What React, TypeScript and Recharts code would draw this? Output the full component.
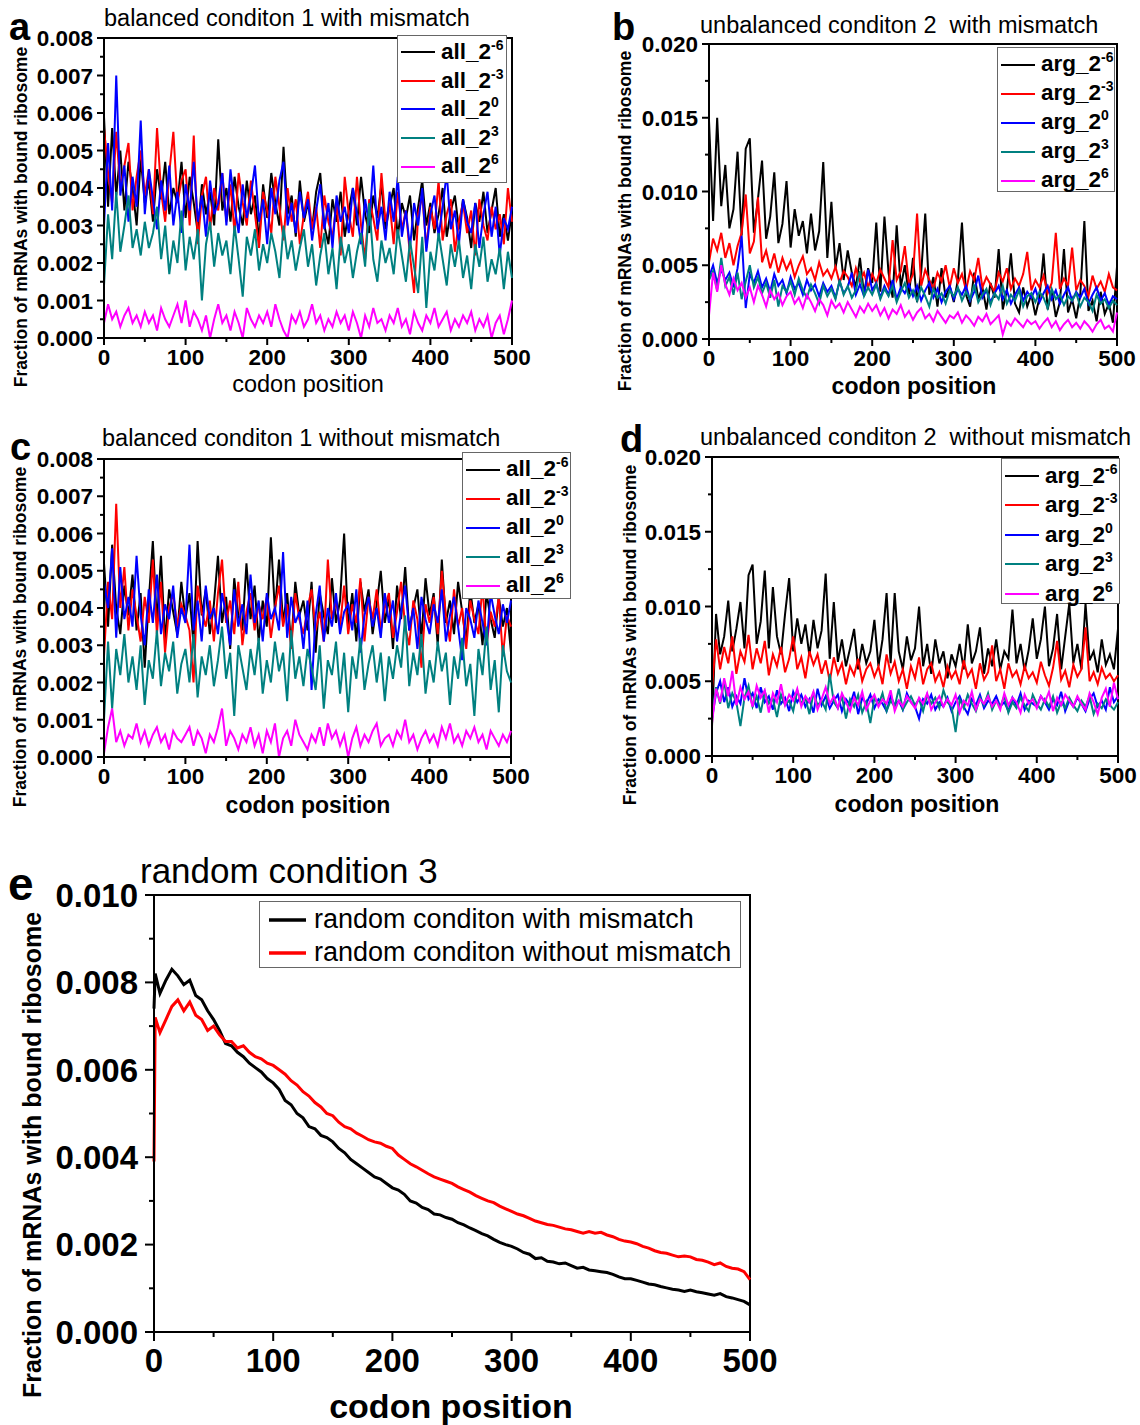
import { Legend, Line, LineChart, ReferenceArea, XAxis, YAxis } from 'recharts'

const FONT = '"Liberation Sans", Arial, Helvetica, sans-serif'

// codon positions sampled every 5 codons
const CODONS = [
  0, 5, 10, 15, 20, 25, 30, 35, 40, 45,
  50, 55, 60, 65, 70, 75, 80, 85, 90, 95,
  100, 105, 110, 115, 120, 125, 130, 135, 140, 145,
  150, 155, 160, 165, 170, 175, 180, 185, 190, 195,
  200, 205, 210, 215, 220, 225, 230, 235, 240, 245,
  250, 255, 260, 265, 270, 275, 280, 285, 290, 295,
  300, 305, 310, 315, 320, 325, 330, 335, 340, 345,
  350, 355, 360, 365, 370, 375, 380, 385, 390, 395,
  400, 405, 410, 415, 420, 425, 430, 435, 440, 445,
  450, 455, 460, 465, 470, 475, 480, 485, 490, 495,
  500,
]

// panel a: balanced condition 1 with mismatch
const A_M6 = [
  0.0059, 0.0035, 0.0056, 0.0038, 0.0050, 0.0034, 0.0047, 0.0040, 0.0030, 0.0048,
  0.0036, 0.0042, 0.0031, 0.0045, 0.0037, 0.0047, 0.0033, 0.0040, 0.0036, 0.0047,
  0.0032, 0.0043, 0.0036, 0.0028, 0.0041, 0.0033, 0.0039, 0.0030, 0.0053, 0.0034,
  0.0040, 0.0031, 0.0043, 0.0035, 0.0030, 0.0042, 0.0033, 0.0038, 0.0026, 0.0041,
  0.0032, 0.0044, 0.0036, 0.0030, 0.0051, 0.0033, 0.0038, 0.0027, 0.0042, 0.0031,
  0.0036, 0.0029, 0.0039, 0.0044, 0.0030, 0.0025, 0.0037, 0.0031, 0.0039, 0.0027,
  0.0034, 0.0040, 0.0030, 0.0043, 0.0033, 0.0028, 0.0038, 0.0032, 0.0041, 0.0029,
  0.0035, 0.0040, 0.0027, 0.0036, 0.0032, 0.0038, 0.0026, 0.0035, 0.0042, 0.0030,
  0.0036, 0.0028, 0.0033, 0.0040, 0.0027, 0.0034, 0.0038, 0.0029, 0.0037, 0.0032,
  0.0024, 0.0036, 0.0031, 0.0039, 0.0028, 0.0034, 0.0040, 0.0027, 0.0033, 0.0026,
  0.0034,
]
const A_M3 = [
  0.0056, 0.0044, 0.0036, 0.0055, 0.0040, 0.0046, 0.0052, 0.0034, 0.0043, 0.0050,
  0.0038, 0.0045, 0.0033, 0.0056, 0.0039, 0.0031, 0.0044, 0.0055, 0.0036, 0.0042,
  0.0045, 0.0030, 0.0054, 0.0025, 0.0038, 0.0043, 0.0029, 0.0040, 0.0034, 0.0044,
  0.0031, 0.0041, 0.0028, 0.0044, 0.0036, 0.0030, 0.0042, 0.0033, 0.0024, 0.0039,
  0.0034, 0.0028, 0.0043, 0.0035, 0.0026, 0.0040, 0.0031, 0.0037, 0.0025, 0.0033,
  0.0039, 0.0029, 0.0035, 0.0024, 0.0038, 0.0031, 0.0027, 0.0036, 0.0022, 0.0043,
  0.0033, 0.0027, 0.0043, 0.0030, 0.0021, 0.0037, 0.0032, 0.0026, 0.0044, 0.0031,
  0.0036, 0.0025, 0.0039, 0.0029, 0.0034, 0.0022, 0.0012, 0.0033, 0.0038, 0.0024,
  0.0035, 0.0029, 0.0042, 0.0026, 0.0033, 0.0037, 0.0023, 0.0031, 0.0036, 0.0028,
  0.0034, 0.0022, 0.0037, 0.0030, 0.0026, 0.0035, 0.0029, 0.0033, 0.0025, 0.0040,
  0.0031,
]
const A_P0 = [
  0.0030, 0.0052, 0.0034, 0.0070, 0.0038, 0.0046, 0.0031, 0.0043, 0.0035, 0.0058,
  0.0033, 0.0045, 0.0037, 0.0029, 0.0042, 0.0034, 0.0046, 0.0030, 0.0039, 0.0028,
  0.0041, 0.0034, 0.0047, 0.0031, 0.0038, 0.0027, 0.0042, 0.0033, 0.0036, 0.0044,
  0.0030, 0.0045, 0.0035, 0.0028, 0.0041, 0.0032, 0.0038, 0.0046, 0.0031, 0.0037,
  0.0025, 0.0040, 0.0033, 0.0042, 0.0047, 0.0030, 0.0036, 0.0028, 0.0039, 0.0032,
  0.0037, 0.0026, 0.0034, 0.0041, 0.0029, 0.0036, 0.0024, 0.0038, 0.0031, 0.0035,
  0.0028, 0.0040, 0.0033, 0.0025, 0.0037, 0.0030, 0.0046, 0.0029, 0.0035, 0.0026,
  0.0039, 0.0031, 0.0043, 0.0027, 0.0034, 0.0024, 0.0036, 0.0030, 0.0040, 0.0023,
  0.0033, 0.0038, 0.0027, 0.0035, 0.0044, 0.0029, 0.0034, 0.0025, 0.0037, 0.0031,
  0.0028, 0.0036, 0.0024, 0.0033, 0.0039, 0.0027, 0.0035, 0.0022, 0.0032, 0.0029,
  0.0035,
]
const A_P3 = [
  0.0014, 0.0033, 0.0021, 0.0039, 0.0023, 0.0030, 0.0038, 0.0024, 0.0029, 0.0022,
  0.0031, 0.0024, 0.0028, 0.0035, 0.0021, 0.0030, 0.0017, 0.0026, 0.0020, 0.0034,
  0.0018, 0.0027, 0.0021, 0.0029, 0.0010, 0.0025, 0.0031, 0.0019, 0.0028, 0.0022,
  0.0026, 0.0017, 0.0030, 0.0021, 0.0011, 0.0027, 0.0022, 0.0029, 0.0018, 0.0025,
  0.0020, 0.0028, 0.0023, 0.0016, 0.0030, 0.0021, 0.0026, 0.0018, 0.0024, 0.0029,
  0.0019, 0.0025, 0.0014, 0.0022, 0.0028, 0.0017, 0.0024, 0.0013, 0.0027, 0.0020,
  0.0025, 0.0016, 0.0023, 0.0028, 0.0019, 0.0036, 0.0021, 0.0015, 0.0026, 0.0020,
  0.0024, 0.0017, 0.0029, 0.0022, 0.0015, 0.0026, 0.0019, 0.0012, 0.0027, 0.0008,
  0.0023, 0.0018, 0.0028, 0.0021, 0.0014, 0.0025, 0.0019, 0.0026, 0.0016, 0.0022,
  0.0013, 0.0025, 0.0019, 0.0027, 0.0015, 0.0021, 0.0017, 0.0024, 0.0013, 0.0023,
  0.0016,
]
const A_P6 = [
  0.0004, 0.0009, 0.0005, 0.0007, 0.0003, 0.0006, 0.0008, 0.0004, 0.0006, 0.0003,
  0.0007, 0.0004, 0.0006, 0.0002, 0.0008, 0.0005, 0.0003, 0.0006, 0.0009, 0.0004,
  0.0010, 0.0003, 0.0007, 0.0005, 0.0002, 0.0006, 0.0000, 0.0005, 0.0009, 0.0004,
  0.0006, 0.0002, 0.0007, 0.0004, 0.0000, 0.0008, 0.0005, 0.0003, 0.0006, 0.0004,
  0.0007, 0.0003, 0.0009, 0.0005, 0.0002, 0.0000, 0.0006, 0.0004, 0.0007, 0.0003,
  0.0005, 0.0009, 0.0004, 0.0006, 0.0002, 0.0005, 0.0003, 0.0007, 0.0004, 0.0006,
  0.0002, 0.0007, 0.0004, 0.0000, 0.0006, 0.0003, 0.0008, 0.0004, 0.0005, 0.0002,
  0.0006, 0.0004, 0.0008, 0.0003, 0.0005, 0.0001, 0.0007, 0.0004, 0.0002, 0.0006,
  0.0004, 0.0008, 0.0003, 0.0005, 0.0007, 0.0002, 0.0005, 0.0003, 0.0006, 0.0004,
  0.0007, 0.0002, 0.0005, 0.0003, 0.0006, 0.0000, 0.0004, 0.0006, 0.0001, 0.0005,
  0.0010,
]

// panel b: unbalanced condition 2 with mismatch
const B_M6 = [
  0.0148, 0.0080, 0.0150, 0.0090, 0.0118, 0.0075, 0.0088, 0.0127, 0.0070, 0.0129,
  0.0136, 0.0072, 0.0095, 0.0121, 0.0068, 0.0083, 0.0113, 0.0065, 0.0078, 0.0107,
  0.0062, 0.0088, 0.0070, 0.0080, 0.0058, 0.0085, 0.0060, 0.0073, 0.0120, 0.0055,
  0.0093, 0.0048, 0.0065, 0.0040, 0.0060, 0.0045, 0.0035, 0.0055, 0.0030, 0.0048,
  0.0038, 0.0079, 0.0032, 0.0083, 0.0045, 0.0028, 0.0077, 0.0035, 0.0050, 0.0030,
  0.0055, 0.0025, 0.0045, 0.0085, 0.0030, 0.0042, 0.0022, 0.0048, 0.0028, 0.0036,
  0.0025, 0.0040, 0.0079, 0.0030, 0.0022, 0.0045, 0.0027, 0.0035, 0.0020, 0.0038,
  0.0028, 0.0061, 0.0020, 0.0033, 0.0058, 0.0024, 0.0018, 0.0035, 0.0022, 0.0030,
  0.0016, 0.0028, 0.0058, 0.0020, 0.0033, 0.0015, 0.0025, 0.0061, 0.0018, 0.0027,
  0.0014, 0.0030, 0.0080, 0.0019, 0.0026, 0.0012, 0.0032, 0.0017, 0.0024, 0.0011,
  0.0049,
]
const B_M3 = [
  0.0052, 0.0068, 0.0060, 0.0072, 0.0055, 0.0065, 0.0050, 0.0063, 0.0072, 0.0098,
  0.0058, 0.0066, 0.0096, 0.0052, 0.0060, 0.0048, 0.0058, 0.0045, 0.0055, 0.0047,
  0.0053, 0.0042, 0.0050, 0.0056, 0.0044, 0.0048, 0.0040, 0.0052, 0.0043, 0.0047,
  0.0041, 0.0049, 0.0038, 0.0046, 0.0042, 0.0036, 0.0048, 0.0039, 0.0045, 0.0035,
  0.0044, 0.0038, 0.0047, 0.0041, 0.0035, 0.0067, 0.0040, 0.0046, 0.0063, 0.0037,
  0.0044, 0.0085, 0.0036, 0.0047, 0.0040, 0.0034, 0.0045, 0.0039, 0.0050, 0.0035,
  0.0048, 0.0038, 0.0044, 0.0033, 0.0046, 0.0040, 0.0055, 0.0035, 0.0042, 0.0037,
  0.0032, 0.0045, 0.0039, 0.0048, 0.0034, 0.0041, 0.0036, 0.0044, 0.0059, 0.0033,
  0.0040, 0.0035, 0.0043, 0.0031, 0.0038, 0.0072, 0.0034, 0.0041, 0.0036, 0.0062,
  0.0033, 0.0040, 0.0036, 0.0029, 0.0043, 0.0034, 0.0039, 0.0032, 0.0044, 0.0035,
  0.0033,
]
const B_P0 = [
  0.0042, 0.0050, 0.0038, 0.0047, 0.0040, 0.0045, 0.0035, 0.0048, 0.0070, 0.0021,
  0.0044, 0.0038, 0.0046, 0.0035, 0.0041, 0.0032, 0.0044, 0.0036, 0.0040, 0.0031,
  0.0042, 0.0034, 0.0038, 0.0030, 0.0040, 0.0033, 0.0037, 0.0029, 0.0038, 0.0032,
  0.0036, 0.0028, 0.0039, 0.0031, 0.0035, 0.0045, 0.0030, 0.0037, 0.0029, 0.0047,
  0.0033, 0.0038, 0.0028, 0.0036, 0.0030, 0.0040, 0.0027, 0.0035, 0.0031, 0.0037,
  0.0029, 0.0036, 0.0026, 0.0033, 0.0038, 0.0028, 0.0034, 0.0025, 0.0032, 0.0036,
  0.0027, 0.0034, 0.0030, 0.0036, 0.0026, 0.0032, 0.0043, 0.0028, 0.0033, 0.0025,
  0.0031, 0.0036, 0.0027, 0.0033, 0.0024, 0.0030, 0.0035, 0.0026, 0.0032, 0.0028,
  0.0034, 0.0025, 0.0031, 0.0036, 0.0027, 0.0033, 0.0024, 0.0030, 0.0035, 0.0026,
  0.0032, 0.0028, 0.0034, 0.0024, 0.0030, 0.0035, 0.0026, 0.0031, 0.0023, 0.0029,
  0.0027,
]
const B_P3 = [
  0.0040, 0.0046, 0.0033, 0.0055, 0.0036, 0.0042, 0.0030, 0.0045, 0.0027, 0.0039,
  0.0050, 0.0035, 0.0042, 0.0031, 0.0038, 0.0028, 0.0040, 0.0022, 0.0036, 0.0032,
  0.0039, 0.0030, 0.0041, 0.0033, 0.0028, 0.0037, 0.0031, 0.0024, 0.0036, 0.0029,
  0.0034, 0.0027, 0.0040, 0.0030, 0.0036, 0.0028, 0.0033, 0.0046, 0.0029, 0.0035,
  0.0030, 0.0037, 0.0027, 0.0034, 0.0029, 0.0036, 0.0025, 0.0032, 0.0038, 0.0028,
  0.0033, 0.0026, 0.0035, 0.0029, 0.0022, 0.0034, 0.0028, 0.0031, 0.0024, 0.0033,
  0.0029, 0.0035, 0.0026, 0.0032, 0.0027, 0.0037, 0.0025, 0.0030, 0.0034, 0.0023,
  0.0031, 0.0027, 0.0036, 0.0024, 0.0030, 0.0026, 0.0033, 0.0022, 0.0029, 0.0031,
  0.0025, 0.0032, 0.0028, 0.0021, 0.0034, 0.0027, 0.0030, 0.0023, 0.0029, 0.0026,
  0.0031, 0.0022, 0.0028, 0.0025, 0.0019, 0.0030, 0.0024, 0.0027, 0.0021, 0.0026,
  0.0023,
]
const B_P6 = [
  0.0016, 0.0045, 0.0032, 0.0050, 0.0037, 0.0030, 0.0041, 0.0033, 0.0038, 0.0028,
  0.0035, 0.0025, 0.0036, 0.0030, 0.0022, 0.0033, 0.0027, 0.0031, 0.0023, 0.0029,
  0.0032, 0.0024, 0.0028, 0.0021, 0.0030, 0.0025, 0.0019, 0.0027, 0.0023, 0.0016,
  0.0026, 0.0021, 0.0024, 0.0018, 0.0025, 0.0020, 0.0015, 0.0022, 0.0018, 0.0024,
  0.0019, 0.0023, 0.0016, 0.0021, 0.0014, 0.0020, 0.0017, 0.0023, 0.0015, 0.0019,
  0.0013, 0.0018, 0.0021, 0.0014, 0.0017, 0.0012, 0.0019, 0.0015, 0.0011, 0.0016,
  0.0014, 0.0018, 0.0011, 0.0016, 0.0013, 0.0009, 0.0015, 0.0012, 0.0017, 0.0010,
  0.0013, 0.0016, 0.0003, 0.0012, 0.0009, 0.0014, 0.0011, 0.0008, 0.0013, 0.0010,
  0.0012, 0.0007, 0.0011, 0.0014, 0.0008, 0.0012, 0.0006, 0.0010, 0.0013, 0.0008,
  0.0011, 0.0007, 0.0012, 0.0009, 0.0005, 0.0010, 0.0013, 0.0007, 0.0009, 0.0005,
  0.0018,
]

// panel c: balanced condition 1 without mismatch
const C_M6 = [
  0.0052, 0.0035, 0.0057, 0.0040, 0.0033, 0.0046, 0.0038, 0.0049, 0.0034, 0.0044,
  0.0024, 0.0042, 0.0058, 0.0036, 0.0054, 0.0031, 0.0045, 0.0039, 0.0033, 0.0047,
  0.0037, 0.0044, 0.0030, 0.0058, 0.0038, 0.0045, 0.0033, 0.0041, 0.0054, 0.0036,
  0.0043, 0.0029, 0.0048, 0.0038, 0.0034, 0.0052, 0.0037, 0.0046, 0.0031, 0.0042,
  0.0035, 0.0059, 0.0039, 0.0053, 0.0036, 0.0044, 0.0030, 0.0047, 0.0038, 0.0042,
  0.0034, 0.0047, 0.0028, 0.0044, 0.0038, 0.0033, 0.0048, 0.0036, 0.0042, 0.0060,
  0.0035, 0.0044, 0.0031, 0.0047, 0.0039, 0.0045, 0.0033, 0.0041, 0.0050, 0.0036,
  0.0043, 0.0029, 0.0046, 0.0037, 0.0051, 0.0034, 0.0040, 0.0045, 0.0032, 0.0048,
  0.0038, 0.0044, 0.0030, 0.0053, 0.0036, 0.0042, 0.0033, 0.0047, 0.0039, 0.0031,
  0.0045, 0.0036, 0.0041, 0.0030, 0.0044, 0.0037, 0.0032, 0.0043, 0.0035, 0.0040,
  0.0028,
]
const C_M3 = [
  0.0027, 0.0047, 0.0037, 0.0068, 0.0040, 0.0051, 0.0034, 0.0045, 0.0038, 0.0031,
  0.0043, 0.0036, 0.0053, 0.0033, 0.0047, 0.0028, 0.0040, 0.0044, 0.0035, 0.0041,
  0.0038, 0.0034, 0.0020, 0.0046, 0.0039, 0.0035, 0.0042, 0.0031, 0.0044, 0.0053,
  0.0036, 0.0042, 0.0033, 0.0047, 0.0030, 0.0039, 0.0044, 0.0034, 0.0041, 0.0037,
  0.0043, 0.0032, 0.0040, 0.0046, 0.0035, 0.0041, 0.0029, 0.0044, 0.0037, 0.0033,
  0.0040, 0.0045, 0.0034, 0.0039, 0.0031, 0.0053, 0.0037, 0.0042, 0.0035, 0.0046,
  0.0033, 0.0041, 0.0036, 0.0048, 0.0031, 0.0043, 0.0037, 0.0045, 0.0034, 0.0040,
  0.0044, 0.0032, 0.0039, 0.0047, 0.0035, 0.0030, 0.0042, 0.0037, 0.0024, 0.0041,
  0.0036, 0.0043, 0.0033, 0.0050, 0.0038, 0.0031, 0.0045, 0.0035, 0.0040, 0.0029,
  0.0042, 0.0037, 0.0033, 0.0046, 0.0030, 0.0039, 0.0035, 0.0043, 0.0027, 0.0038,
  0.0035,
]
const C_P0 = [
  0.0047, 0.0040, 0.0056, 0.0032, 0.0051, 0.0037, 0.0043, 0.0035, 0.0054, 0.0038,
  0.0030, 0.0045, 0.0036, 0.0049, 0.0033, 0.0041, 0.0037, 0.0046, 0.0032, 0.0040,
  0.0036, 0.0057, 0.0034, 0.0042, 0.0031, 0.0046, 0.0037, 0.0040, 0.0033, 0.0044,
  0.0038, 0.0030, 0.0045, 0.0035, 0.0041, 0.0033, 0.0049, 0.0036, 0.0042, 0.0031,
  0.0044, 0.0037, 0.0040, 0.0034, 0.0055, 0.0032, 0.0043, 0.0036, 0.0039, 0.0029,
  0.0042, 0.0018, 0.0038, 0.0046, 0.0031, 0.0040, 0.0035, 0.0044, 0.0033, 0.0039,
  0.0041, 0.0034, 0.0045, 0.0028, 0.0038, 0.0043, 0.0035, 0.0040, 0.0032, 0.0044,
  0.0036, 0.0042, 0.0031, 0.0039, 0.0046, 0.0034, 0.0040, 0.0029, 0.0043, 0.0037,
  0.0033, 0.0041, 0.0036, 0.0045, 0.0031, 0.0038, 0.0043, 0.0035, 0.0026, 0.0040,
  0.0037, 0.0032, 0.0042, 0.0036, 0.0030, 0.0044, 0.0038, 0.0033, 0.0041, 0.0036,
  0.0042,
]
const C_P3 = [
  0.0010, 0.0031, 0.0013, 0.0029, 0.0022, 0.0033, 0.0020, 0.0027, 0.0018, 0.0030,
  0.0014, 0.0026, 0.0021, 0.0034, 0.0019, 0.0028, 0.0023, 0.0031, 0.0017, 0.0025,
  0.0029, 0.0020, 0.0033, 0.0016, 0.0027, 0.0022, 0.0030, 0.0019, 0.0026, 0.0035,
  0.0021, 0.0028, 0.0011, 0.0030, 0.0024, 0.0018, 0.0029, 0.0022, 0.0032, 0.0017,
  0.0026, 0.0020, 0.0031, 0.0023, 0.0028, 0.0015, 0.0034, 0.0021, 0.0027, 0.0019,
  0.0029, 0.0024, 0.0018, 0.0030, 0.0013, 0.0026, 0.0022, 0.0031, 0.0017, 0.0028,
  0.0012, 0.0027, 0.0021, 0.0032, 0.0018, 0.0025, 0.0030, 0.0020, 0.0028, 0.0015,
  0.0027, 0.0021, 0.0030, 0.0024, 0.0038, 0.0019, 0.0028, 0.0022, 0.0033, 0.0017,
  0.0026, 0.0020, 0.0031, 0.0023, 0.0028, 0.0014, 0.0027, 0.0021, 0.0032, 0.0019,
  0.0025, 0.0011, 0.0029, 0.0022, 0.0035, 0.0018, 0.0026, 0.0012, 0.0030, 0.0023,
  0.0020,
]
const C_P6 = [
  0.0001, 0.0008, 0.0013, 0.0004, 0.0007, 0.0003, 0.0006, 0.0005, 0.0009, 0.0004,
  0.0007, 0.0003, 0.0006, 0.0008, 0.0004, 0.0006, 0.0002, 0.0007, 0.0005, 0.0004,
  0.0006, 0.0008, 0.0003, 0.0007, 0.0005, 0.0001, 0.0006, 0.0004, 0.0008, 0.0013,
  0.0003, 0.0007, 0.0005, 0.0002, 0.0006, 0.0004, 0.0008, 0.0003, 0.0006, 0.0001,
  0.0007, 0.0004, 0.0009, 0.0000, 0.0005, 0.0007, 0.0003, 0.0010, 0.0006, 0.0004,
  0.0002, 0.0006, 0.0004, 0.0008, 0.0003, 0.0009, 0.0005, 0.0007, 0.0003, 0.0006,
  0.0000, 0.0005, 0.0008, 0.0003, 0.0006, 0.0004, 0.0007, 0.0009, 0.0003, 0.0005,
  0.0006, 0.0003, 0.0007, 0.0005, 0.0010, 0.0004, 0.0006, 0.0002, 0.0005, 0.0007,
  0.0004, 0.0006, 0.0003, 0.0008, 0.0005, 0.0009, 0.0004, 0.0006, 0.0003, 0.0007,
  0.0005, 0.0008, 0.0004, 0.0006, 0.0002, 0.0007, 0.0005, 0.0003, 0.0006, 0.0004,
  0.0007,
]

// panel d: unbalanced condition 2 without mismatch
const D_M6 = [
  0.0020, 0.0095, 0.0068, 0.0080, 0.0104, 0.0070, 0.0085, 0.0103, 0.0072, 0.0121,
  0.0128, 0.0075, 0.0090, 0.0124, 0.0072, 0.0113, 0.0080, 0.0068, 0.0095, 0.0119,
  0.0070, 0.0092, 0.0075, 0.0088, 0.0067, 0.0091, 0.0072, 0.0084, 0.0122, 0.0065,
  0.0103, 0.0063, 0.0078, 0.0060, 0.0072, 0.0085, 0.0058, 0.0075, 0.0062, 0.0070,
  0.0091, 0.0060, 0.0078, 0.0109, 0.0062, 0.0109, 0.0070, 0.0058, 0.0080, 0.0064,
  0.0072, 0.0100, 0.0060, 0.0075, 0.0055, 0.0078, 0.0062, 0.0070, 0.0052, 0.0068,
  0.0060, 0.0075, 0.0058, 0.0088, 0.0062, 0.0070, 0.0086, 0.0055, 0.0072, 0.0060,
  0.0078, 0.0058, 0.0070, 0.0065, 0.0098, 0.0062, 0.0075, 0.0057, 0.0071, 0.0092,
  0.0065, 0.0078, 0.0100, 0.0060, 0.0072, 0.0095, 0.0058, 0.0080, 0.0102, 0.0062,
  0.0075, 0.0058, 0.0102, 0.0064, 0.0070, 0.0056, 0.0078, 0.0061, 0.0068, 0.0058,
  0.0085,
]
const D_M3 = [
  0.0045, 0.0078, 0.0058, 0.0073, 0.0062, 0.0080, 0.0055, 0.0070, 0.0063, 0.0081,
  0.0058, 0.0072, 0.0062, 0.0077, 0.0054, 0.0068, 0.0060, 0.0073, 0.0056, 0.0065,
  0.0080, 0.0058, 0.0066, 0.0052, 0.0070, 0.0061, 0.0068, 0.0055, 0.0064, 0.0050,
  0.0066, 0.0055, 0.0062, 0.0048, 0.0060, 0.0054, 0.0065, 0.0050, 0.0058, 0.0062,
  0.0053, 0.0060, 0.0048, 0.0068, 0.0055, 0.0063, 0.0050, 0.0058, 0.0045, 0.0060,
  0.0052, 0.0066, 0.0048, 0.0058, 0.0062, 0.0050, 0.0056, 0.0046, 0.0060, 0.0052,
  0.0057, 0.0048, 0.0064, 0.0053, 0.0058, 0.0045, 0.0062, 0.0051, 0.0056, 0.0074,
  0.0050, 0.0058, 0.0045, 0.0062, 0.0053, 0.0057, 0.0048, 0.0060, 0.0052, 0.0056,
  0.0049, 0.0063, 0.0054, 0.0047, 0.0059, 0.0077, 0.0051, 0.0057, 0.0046, 0.0061,
  0.0053, 0.0058, 0.0086, 0.0050, 0.0056, 0.0048, 0.0059, 0.0052, 0.0055, 0.0050,
  0.0054,
]
const D_P0 = [
  0.0025, 0.0042, 0.0050, 0.0036, 0.0046, 0.0033, 0.0040, 0.0035, 0.0052, 0.0038,
  0.0042, 0.0032, 0.0046, 0.0036, 0.0040, 0.0031, 0.0044, 0.0035, 0.0039, 0.0030,
  0.0043, 0.0036, 0.0041, 0.0033, 0.0038, 0.0029, 0.0045, 0.0034, 0.0040, 0.0032,
  0.0037, 0.0041, 0.0030, 0.0038, 0.0034, 0.0043, 0.0028, 0.0039, 0.0035, 0.0041,
  0.0032, 0.0038, 0.0035, 0.0030, 0.0040, 0.0034, 0.0037, 0.0031, 0.0042, 0.0036,
  0.0033, 0.0025, 0.0038, 0.0035, 0.0041, 0.0031, 0.0036, 0.0033, 0.0039, 0.0030,
  0.0036, 0.0040, 0.0033, 0.0028, 0.0038, 0.0034, 0.0041, 0.0032, 0.0037, 0.0035,
  0.0040, 0.0033, 0.0036, 0.0030, 0.0039, 0.0034, 0.0042, 0.0031, 0.0037, 0.0035,
  0.0033, 0.0040, 0.0036, 0.0031, 0.0038, 0.0034, 0.0043, 0.0030, 0.0037, 0.0033,
  0.0039, 0.0035, 0.0030, 0.0038, 0.0042, 0.0033, 0.0037, 0.0031, 0.0046, 0.0036,
  0.0040,
]
const D_P3 = [
  0.0028, 0.0046, 0.0035, 0.0050, 0.0032, 0.0042, 0.0036, 0.0020, 0.0039, 0.0047,
  0.0033, 0.0040, 0.0029, 0.0043, 0.0035, 0.0038, 0.0026, 0.0041, 0.0034, 0.0037,
  0.0030, 0.0044, 0.0035, 0.0039, 0.0028, 0.0042, 0.0034, 0.0037, 0.0031, 0.0055,
  0.0036, 0.0032, 0.0040, 0.0025, 0.0038, 0.0033, 0.0041, 0.0029, 0.0036, 0.0022,
  0.0039, 0.0034, 0.0042, 0.0030, 0.0037, 0.0033, 0.0045, 0.0031, 0.0036, 0.0040,
  0.0034, 0.0038, 0.0030, 0.0041, 0.0035, 0.0039, 0.0032, 0.0044, 0.0036, 0.0033,
  0.0016, 0.0038, 0.0032, 0.0041, 0.0035, 0.0030, 0.0039, 0.0034, 0.0042, 0.0031,
  0.0037, 0.0033, 0.0040, 0.0029, 0.0036, 0.0032, 0.0039, 0.0034, 0.0030, 0.0041,
  0.0035, 0.0031, 0.0038, 0.0033, 0.0040, 0.0029, 0.0036, 0.0032, 0.0039, 0.0034,
  0.0030, 0.0037, 0.0033, 0.0040, 0.0028, 0.0035, 0.0032, 0.0038, 0.0034, 0.0031,
  0.0036,
]
const D_P6 = [
  0.0022, 0.0045, 0.0036, 0.0052, 0.0040, 0.0057, 0.0034, 0.0046, 0.0038, 0.0043,
  0.0033, 0.0047, 0.0039, 0.0044, 0.0029, 0.0042, 0.0036, 0.0048, 0.0034, 0.0041,
  0.0037, 0.0045, 0.0033, 0.0040, 0.0036, 0.0043, 0.0031, 0.0038, 0.0046, 0.0035,
  0.0040, 0.0032, 0.0042, 0.0036, 0.0030, 0.0039, 0.0034, 0.0043, 0.0031, 0.0037,
  0.0041, 0.0033, 0.0038, 0.0035, 0.0044, 0.0030, 0.0037, 0.0033, 0.0040, 0.0036,
  0.0032, 0.0039, 0.0035, 0.0042, 0.0031, 0.0036, 0.0040, 0.0033, 0.0038, 0.0034,
  0.0041, 0.0029, 0.0037, 0.0034, 0.0043, 0.0031, 0.0038, 0.0035, 0.0040, 0.0033,
  0.0037, 0.0031, 0.0042, 0.0034, 0.0039, 0.0036, 0.0029, 0.0041, 0.0035, 0.0038,
  0.0032, 0.0040, 0.0036, 0.0043, 0.0030, 0.0039, 0.0034, 0.0041, 0.0037, 0.0033,
  0.0040, 0.0035, 0.0031, 0.0042, 0.0036, 0.0028, 0.0039, 0.0045, 0.0033, 0.0049,
  0.0038,
]

// panel e: random condition 3
const E_X = [
  0, 1, 5, 10, 15, 20, 25, 30, 35, 40, 45,
  50, 55, 60, 65, 70, 75, 80, 85, 90, 95,
  100, 105, 110, 115, 120, 125, 130, 135, 140, 145,
  150, 155, 160, 165, 170, 175, 180, 185, 190, 195,
  200, 205, 210, 215, 220, 225, 230, 235, 240, 245,
  250, 255, 260, 265, 270, 275, 280, 285, 290, 295,
  300, 305, 310, 315, 320, 325, 330, 335, 340, 345,
  350, 355, 360, 365, 370, 375, 380, 385, 390, 395,
  400, 405, 410, 415, 420, 425, 430, 435, 440, 445,
  450, 455, 460, 465, 470, 475, 480, 485, 490, 495,
  500,
]
const E_WITH = [
  0.00740, 0.00820, 0.00775, 0.00805, 0.00830, 0.00815, 0.00795, 0.00805, 0.00770, 0.00760, 0.00735,
  0.00715, 0.00690, 0.00660, 0.00655, 0.00640, 0.00630, 0.00615, 0.00605, 0.00595, 0.00580,
  0.00570, 0.00555, 0.00530, 0.00520, 0.00500, 0.00490, 0.00470, 0.00465, 0.00450, 0.00445,
  0.00435, 0.00420, 0.00410, 0.00395, 0.00385, 0.00375, 0.00365, 0.00355, 0.00350, 0.00340,
  0.00330, 0.00325, 0.00315, 0.00300, 0.00295, 0.00285, 0.00280, 0.00270, 0.00268, 0.00262,
  0.00258, 0.00250, 0.00245, 0.00238, 0.00232, 0.00225, 0.00220, 0.00212, 0.00205, 0.00200,
  0.00196, 0.00190, 0.00182, 0.00178, 0.00168, 0.00170, 0.00162, 0.00160, 0.00156, 0.00158,
  0.00152, 0.00146, 0.00148, 0.00142, 0.00140, 0.00138, 0.00136, 0.00132, 0.00126, 0.00122,
  0.00122, 0.00118, 0.00114, 0.00110, 0.00108, 0.00104, 0.00101, 0.00098, 0.00096, 0.00093,
  0.00096, 0.00092, 0.00090, 0.00087, 0.00084, 0.00088, 0.00081, 0.00078, 0.00074, 0.00070,
  0.00062,
]
const E_WITHOUT = [
  0.00390, 0.00720, 0.00685, 0.00715, 0.00745, 0.00760, 0.00735, 0.00755, 0.00725, 0.00715, 0.00690,
  0.00700, 0.00680, 0.00665, 0.00665, 0.00650, 0.00655, 0.00640, 0.00630, 0.00625, 0.00615,
  0.00610, 0.00600, 0.00590, 0.00575, 0.00565, 0.00550, 0.00540, 0.00525, 0.00515, 0.00500,
  0.00495, 0.00480, 0.00470, 0.00465, 0.00455, 0.00448, 0.00440, 0.00435, 0.00432, 0.00425,
  0.00420, 0.00405, 0.00395, 0.00385, 0.00378, 0.00370, 0.00362, 0.00355, 0.00350, 0.00345,
  0.00340, 0.00332, 0.00326, 0.00320, 0.00312, 0.00306, 0.00300, 0.00296, 0.00288, 0.00282,
  0.00276, 0.00270, 0.00266, 0.00260, 0.00254, 0.00250, 0.00246, 0.00244, 0.00240, 0.00236,
  0.00234, 0.00230, 0.00226, 0.00230, 0.00226, 0.00228, 0.00222, 0.00218, 0.00212, 0.00208,
  0.00206, 0.00202, 0.00196, 0.00192, 0.00186, 0.00182, 0.00180, 0.00176, 0.00172, 0.00174,
  0.00172, 0.00166, 0.00164, 0.00160, 0.00154, 0.00158, 0.00150, 0.00146, 0.00144, 0.00138,
  0.00120,
]

const POWER_COLORS = ['#000000', '#ff0000', '#0000ff', '#008080', '#ff00ff']
const POWER_EXPONENTS = ['-6', '-3', '0', '3', '6']
const POWER_KEYS = ['m6', 'm3', 'p0', 'p3', 'p6']

const X_TICKS = [0, 50, 100, 150, 200, 250, 300, 350, 400, 450, 500]
const X_MAJOR = [0, 100, 200, 300, 400, 500]
const Y_TICKS_BAL = [0, 0.0005, 0.001, 0.0015, 0.002, 0.0025, 0.003, 0.0035, 0.004, 0.0045, 0.005, 0.0055, 0.006, 0.0065, 0.007, 0.0075, 0.008]
const Y_MAJOR_BAL = [0, 0.001, 0.002, 0.003, 0.004, 0.005, 0.006, 0.007, 0.008]
const Y_TICKS_UNB = [0, 0.0025, 0.005, 0.0075, 0.01, 0.0125, 0.015, 0.0175, 0.02]
const Y_MAJOR_UNB = [0, 0.005, 0.01, 0.015, 0.02]
const Y_TICKS_RND = [0, 0.001, 0.002, 0.003, 0.004, 0.005, 0.006, 0.007, 0.008, 0.009, 0.01]
const Y_MAJOR_RND = [0, 0.002, 0.004, 0.006, 0.008, 0.01]

const Y_TITLE = 'Fraction of mRNAs with bound ribosome'

function buildRows(xs: number[], keys: string[], series: number[][]) {
  return xs.map((x, i) => {
    const row: Record<string, number> = { x }
    keys.forEach((k, j) => {
      row[k] = series[j][i]
    })
    return row
  })
}

const isIn = (list: number[], v: number) => list.some((m) => Math.abs(m - v) < 1e-9)

interface TickStyle {
  font: number
  major: number
  minor: number
  gap: number
  width: number
}

function renderYTick(props: any, majors: number[], st: TickStyle) {
  const { x, y, payload } = props
  const v = payload.value as number
  const major = isIn(majors, v)
  const len = major ? st.major : st.minor
  return (
    <g>
      <line x1={x} x2={x - len} y1={y} y2={y} stroke="#000" strokeWidth={st.width} />
      {major && (
        <text x={x - st.major - st.gap} y={y + st.font * 0.358} textAnchor="end" fontSize={st.font} fontWeight="bold" fontFamily={FONT} fill="#000">
          {v.toFixed(3)}
        </text>
      )}
    </g>
  )
}

function renderXTick(props: any, st: TickStyle) {
  const { x, y, payload } = props
  const v = payload.value as number
  const major = isIn(X_MAJOR, v)
  const len = major ? st.major : st.minor
  return (
    <g>
      <line x1={x} x2={x} y1={y} y2={y + len} stroke="#000" strokeWidth={st.width} />
      {major && (
        <text x={x} y={y + st.major + st.gap + st.font * 0.716} textAnchor="middle" fontSize={st.font} fontWeight="bold" fontFamily={FONT} fill="#000">
          {v}
        </text>
      )}
    </g>
  )
}

function PowerLegend({ prefix, width, height, rowH }: { prefix: string; width: number; height: number; rowH: number }) {
  return (
    <div style={{ width, height, boxSizing: 'border-box', border: '1.5px solid #666', background: '#fff', padding: '2px 0 0 3px', fontFamily: FONT, color: '#000' }}>
      {POWER_COLORS.map((c, i) => (
        <div key={c} style={{ display: 'flex', alignItems: 'center', height: rowH }}>
          <svg width={34} height={4} style={{ flex: 'none' }}>
            <line x1={0} x2={34} y1={2} y2={2} stroke={c} strokeWidth={2} />
          </svg>
          <span style={{ marginLeft: 6, fontSize: 22.5, fontWeight: 'bold', lineHeight: 1, whiteSpace: 'nowrap' }}>
            {prefix}2
            <span style={{ fontSize: 14, position: 'relative', top: -9 }}>{POWER_EXPONENTS[i]}</span>
          </span>
        </div>
      ))}
    </div>
  )
}

function RandomLegend() {
  const items = [
    { c: '#000000', t: 'random conditon with mismatch' },
    { c: '#ff0000', t: 'random conditon without mismatch' },
  ]
  return (
    <div style={{ width: 482, height: 67, boxSizing: 'border-box', border: '1.5px solid #666', background: '#fff', paddingTop: 1, fontFamily: FONT, color: '#000' }}>
      {items.map((it) => (
        <div key={it.c} style={{ display: 'flex', alignItems: 'center', height: 33 }}>
          <svg width={47} height={4} style={{ flex: 'none' }}>
            <line x1={9} x2={46} y1={2} y2={2} stroke={it.c} strokeWidth={3.5} />
          </svg>
          <span style={{ marginLeft: 7, fontSize: 27, lineHeight: 1, whiteSpace: 'nowrap' }}>{it.t}</span>
        </div>
      ))}
    </div>
  )
}

interface PanelProps {
  plot: { left: number; top: number; width: number; height: number }
  rows: Record<string, number>[]
  keys: string[]
  colors: string[]
  yMax: number
  yTicks: number[]
  yMajor: number[]
  tick: TickStyle
  strokeWidth: number
  axisWidth: number
  legend: JSX.Element
  legendAt: { left: number; top: number }
}

const GL = 130
const GT = 30
const GR = 50
const GB = 70

function Panel({ plot, rows, keys, colors, yMax, yTicks, yMajor, tick, strokeWidth, axisWidth, legend, legendAt }: PanelProps) {
  const originX = plot.left - GL
  const originY = plot.top - GT
  return (
    <div style={{ position: 'absolute', left: originX, top: originY }}>
      <LineChart width={plot.width + GL + GR} height={plot.height + GT + GB} data={rows} margin={{ top: GT, right: GR, bottom: 0, left: 0 }}>
        <ReferenceArea x1={0} x2={500} y1={0} y2={yMax} fill="none" stroke="#000" strokeWidth={axisWidth} ifOverflow="visible" />
        <XAxis
          type="number"
          dataKey="x"
          domain={[0, 500]}
          ticks={X_TICKS}
          interval={0}
          height={GB}
          tickSize={0}
          tickMargin={0}
          tickLine={false}
          axisLine={{ stroke: '#000', strokeWidth: axisWidth }}
          tick={(p: any) => renderXTick(p, tick)}
        />
        <YAxis
          type="number"
          domain={[0, yMax]}
          ticks={yTicks}
          interval={0}
          width={GL}
          tickSize={0}
          tickMargin={0}
          tickLine={false}
          allowDataOverflow
          axisLine={{ stroke: '#000', strokeWidth: axisWidth }}
          tick={(p: any) => renderYTick(p, yMajor, tick)}
        />
        {keys.map((k, i) => (
          <Line key={k} type="linear" dataKey={k} stroke={colors[i]} strokeWidth={strokeWidth} dot={false} isAnimationActive={false} />
        ))}
        <Legend
          layout="vertical"
          align="center"
          verticalAlign="middle"
          wrapperStyle={{ left: legendAt.left - originX, top: legendAt.top - originY, width: 'auto', height: 'auto' }}
          content={() => legend}
        />
      </LineChart>
    </div>
  )
}

function Txt({ x, base, size, bold, center, children }: { x: number; base: number; size: number; bold?: boolean; center?: boolean; children: string }) {
  return (
    <div
      style={{
        position: 'absolute',
        left: x,
        top: base - 0.8465 * size,
        fontSize: size,
        lineHeight: 1,
        fontWeight: bold ? 'bold' : 'normal',
        fontFamily: FONT,
        whiteSpace: 'pre',
        transform: center ? 'translateX(-50%)' : undefined,
        color: '#000',
      }}
    >
      {children}
    </div>
  )
}

function VTxt({ cx, cy, size, children }: { cx: number; cy: number; size: number; children: string }) {
  return (
    <div
      style={{
        position: 'absolute',
        left: cx,
        top: cy,
        fontSize: size,
        lineHeight: 1,
        fontWeight: 'bold',
        fontFamily: FONT,
        whiteSpace: 'nowrap',
        transform: 'translate(-50%, -50%) rotate(-90deg)',
        color: '#000',
      }}
    >
      {children}
    </div>
  )
}

const SMALL_TICK: TickStyle = { font: 22.5, major: 7, minor: 4, gap: 4, width: 2 }
const BIG_TICK: TickStyle = { font: 33, major: 9, minor: 5, gap: 7, width: 2 }

export default function App() {
  const rowsA = buildRows(CODONS, POWER_KEYS, [A_M6, A_M3, A_P0, A_P3, A_P6])
  const rowsB = buildRows(CODONS, POWER_KEYS, [B_M6, B_M3, B_P0, B_P3, B_P6])
  const rowsC = buildRows(CODONS, POWER_KEYS, [C_M6, C_M3, C_P0, C_P3, C_P6])
  const rowsD = buildRows(CODONS, POWER_KEYS, [D_M6, D_M3, D_P0, D_P3, D_P6])
  const rowsE = buildRows(E_X, ['with', 'without'], [E_WITH, E_WITHOUT])

  return (
    <div style={{ position: 'absolute', left: 0, top: 0, width: 1140, height: 1425, background: '#fff', overflow: 'hidden' }}>
      <Panel
        plot={{ left: 104, top: 38, width: 408, height: 300 }}
        rows={rowsA}
        keys={POWER_KEYS}
        colors={POWER_COLORS}
        yMax={0.008}
        yTicks={Y_TICKS_BAL}
        yMajor={Y_MAJOR_BAL}
        tick={SMALL_TICK}
        strokeWidth={2}
        axisWidth={2}
        legend={<PowerLegend prefix="all_" width={110} height={148} rowH={28.6} />}
        legendAt={{ left: 397, top: 35 }}
      />
      <Panel
        plot={{ left: 709, top: 44, width: 408, height: 295 }}
        rows={rowsB}
        keys={POWER_KEYS}
        colors={POWER_COLORS}
        yMax={0.02}
        yTicks={Y_TICKS_UNB}
        yMajor={Y_MAJOR_UNB}
        tick={SMALL_TICK}
        strokeWidth={2}
        axisWidth={2}
        legend={<PowerLegend prefix="arg_" width={118} height={145} rowH={29} />}
        legendAt={{ left: 997, top: 47 }}
      />
      <Panel
        plot={{ left: 104, top: 459, width: 407, height: 298 }}
        rows={rowsC}
        keys={POWER_KEYS}
        colors={POWER_COLORS}
        yMax={0.008}
        yTicks={Y_TICKS_BAL}
        yMajor={Y_MAJOR_BAL}
        tick={SMALL_TICK}
        strokeWidth={2}
        axisWidth={2}
        legend={<PowerLegend prefix="all_" width={109} height={147} rowH={29} />}
        legendAt={{ left: 462, top: 452 }}
      />
      <Panel
        plot={{ left: 712, top: 457, width: 406, height: 299 }}
        rows={rowsD}
        keys={POWER_KEYS}
        colors={POWER_COLORS}
        yMax={0.02}
        yTicks={Y_TICKS_UNB}
        yMajor={Y_MAJOR_UNB}
        tick={SMALL_TICK}
        strokeWidth={2}
        axisWidth={2}
        legend={<PowerLegend prefix="arg_" width={119} height={146} rowH={29.5} />}
        legendAt={{ left: 1001, top: 458 }}
      />
      <Panel
        plot={{ left: 154, top: 895, width: 596, height: 437 }}
        rows={rowsE}
        keys={['with', 'without']}
        colors={['#000000', '#ff0000']}
        yMax={0.01}
        yTicks={Y_TICKS_RND}
        yMajor={Y_MAJOR_RND}
        tick={BIG_TICK}
        strokeWidth={3}
        axisWidth={2}
        legend={<RandomLegend />}
        legendAt={{ left: 259, top: 901 }}
      />

      <Txt x={9} base={40} size={38} bold>a</Txt>
      <Txt x={612} base={40} size={38} bold>b</Txt>
      <Txt x={10} base={460} size={38} bold>c</Txt>
      <Txt x={620} base={452} size={38} bold>d</Txt>
      <Txt x={8} base={900} size={46} bold>e</Txt>

      <Txt x={104} base={27} size={23.5}>balanced conditon 1 with mismatch</Txt>
      <Txt x={700} base={34} size={23.5}>unbalanced conditon 2  with mismatch</Txt>
      <Txt x={102} base={447} size={23.5}>balanced conditon 1 without mismatch</Txt>
      <Txt x={700} base={446} size={23.5}>unbalanced conditon 2  without mismatch</Txt>
      <Txt x={140} base={883} size={35}>random condition 3</Txt>

      <Txt x={308} base={393} size={23.5} center>codon position</Txt>
      <Txt x={914} base={394} size={23} bold center>codon position</Txt>
      <Txt x={308} base={813} size={23} bold center>codon position</Txt>
      <Txt x={917} base={812} size={23} bold center>codon position</Txt>
      <Txt x={451} base={1418} size={34} bold center>codon position</Txt>

      <VTxt cx={22} cy={217} size={17.5}>{Y_TITLE}</VTxt>
      <VTxt cx={626} cy={221} size={17.5}>{Y_TITLE}</VTxt>
      <VTxt cx={21} cy={637} size={17.5}>{Y_TITLE}</VTxt>
      <VTxt cx={631} cy={635} size={17.5}>{Y_TITLE}</VTxt>
      <VTxt cx={32} cy={1155} size={25}>{Y_TITLE}</VTxt>
    </div>
  )
}
